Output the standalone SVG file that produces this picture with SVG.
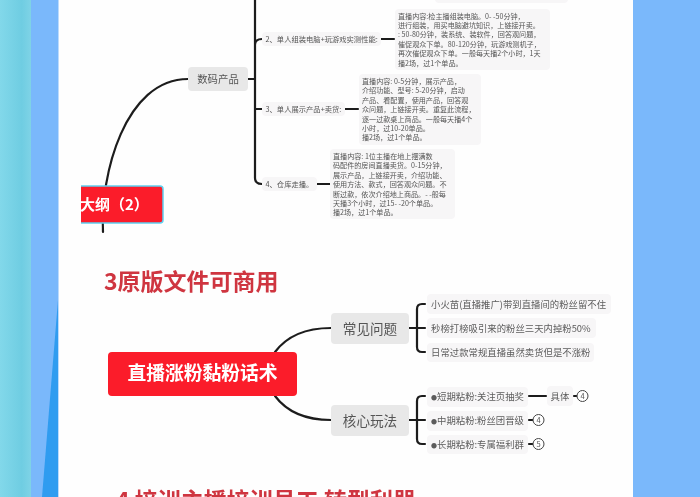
<svg xmlns="http://www.w3.org/2000/svg" width="700" height="497" viewBox="0 0 700 497">
<defs>
<style>
text{font-family:"Noto Sans CJK SC","Liberation Sans",sans-serif}
.c{fill:none;stroke:#1e1e1e;stroke-width:2.2;stroke-linecap:round}
.lb{fill:#f7f6f7}
.t{font-size:7.3px;fill:#555}
.dt{font-size:7.1px;fill:#555}
.s{font-size:9.4px;fill:#5c5c5c}
.b{fill:#e8e8e8}
.n{font-size:10.4px;fill:#555;text-anchor:middle}
.m{font-size:13.6px;fill:#555;text-anchor:middle}
.h{font-size:23px;font-weight:700;fill:#cf3640}
.o{fill:#fff;stroke:#444;stroke-width:1}
.ot{font-size:7.5px;fill:#555;text-anchor:middle}
.d{font-size:6px}
</style>
<linearGradient id="tl" x1="0" x2="1" y1="0" y2="0"><stop offset="0" stop-color="#82d8ea"/><stop offset="0.7" stop-color="#6fcde2"/><stop offset="1" stop-color="#7fd3e6"/></linearGradient>
<filter id="soft" x="-2%" y="-2%" width="104%" height="104%"><feGaussianBlur stdDeviation="0.35"/></filter>
</defs>
<rect width="700" height="497" fill="#7ab8fb"/>
<rect width="31" height="497" fill="url(#tl)"/>
<polygon points="58,300 42,497 58,497" fill="#2f9cf0"/>
<rect x="58.500" y="0" width="574.500" height="497" fill="#fefefe"/>
<g filter="url(#soft)">
<g id="connectors">
<path class="c" d="M103 232C100 175 125 79 188 79"/>
<path class="c" d="M248 79H255M255 0V178Q255 184 262 184M255 45Q255 39 262 39M255 109H262M381 39H394M345 109H358M317 184H330"/>
<path class="c" d="M275 352C287 336 306 328 331 328M275 396C287 412 306 420 331 420"/>
<path class="c" d="M409 328H425M425 304H422Q417 304 417 309V347Q417 352 422 352H425"/>
<path class="c" d="M409 420H425M425 396H422Q417 396 417 401V439Q417 444 422 444H425"/>
<path class="c" d="M529 396H546M574 396H577M529 420H533M529 444H533"/>
</g>
<g id="top-box"><rect class="lb" x="435" y="-20" width="133" height="23" rx="4"/></g>
<g id="node-digital"><rect class="b" x="188" y="67" width="60" height="24" rx="4"/><text class="n" x="218" y="83">数码产品</text></g>
<g id="label-2"><rect class="lb" x="262" y="32" width="119" height="14" rx="4"/><text class="t" x="265.500" y="42">2、单人组装电脑+玩游戏实测性能:</text></g>
<g id="label-3"><rect class="lb" x="262" y="102" width="83" height="14" rx="4"/><text class="t" x="265.500" y="112">3、单人展示产品+卖货:</text></g>
<g id="label-4"><rect class="lb" x="262" y="177" width="55" height="14" rx="4"/><text class="t" x="265.500" y="187">4、仓库走播。</text></g>
<g id="detail-2"><rect class="lb" x="395" y="9" width="155" height="61" rx="4"/>
<text class="dt"><tspan x="398" y="18.500">直播内容:检主播组装电脑。0- -50分钟&#xFF0C;</tspan><tspan x="398" y="28">进行组装&#xFF0C;用买电脑避坑知识&#xFF0C;上链接开卖。</tspan><tspan x="398" y="37.400">: 50-80分钟&#xFF0C;装系统、装软件&#xFF0C;回答观问题&#xFF0C;</tspan><tspan x="398" y="46.800">催促观众下单。80-120分钟&#xFF0C;玩游戏测机子&#xFF0C;</tspan><tspan x="398" y="56.200">再次催促观众下单。一般每天播2个小时&#xFF0C;1天</tspan><tspan x="398" y="65.600">播2场&#xFF0C;过1个单品。</tspan></text></g>
<g id="detail-3"><rect class="lb" x="359" y="74" width="122" height="71" rx="4"/>
<text class="dt"><tspan x="362" y="84">直播内容: 0-5分钟&#xFF0C;展示产品&#xFF0C;</tspan><tspan x="362" y="93.400">介绍功能、型号: 5-20分钟&#xFF0C;启动</tspan><tspan x="362" y="102.800">产品、看配置&#xFF0C;使用产品&#xFF0C;回答观</tspan><tspan x="362" y="112.200">众问题&#xFF0C;上链接开卖。重复此流程&#xFF0C;</tspan><tspan x="362" y="121.600">逐一过款桌上商品。一般每天播4个</tspan><tspan x="362" y="131">小时&#xFF0C;过10-20单品。</tspan><tspan x="362" y="140.400">播2场&#xFF0C;过1个单品。</tspan></text></g>
<g id="detail-4"><rect class="lb" x="330" y="149" width="125" height="70" rx="4"/>
<text class="dt"><tspan x="333" y="159">直播内容: 1位主播在地上摆满数</tspan><tspan x="333" y="168.400">码配件的房间直播卖货。0-15分钟&#xFF0C;</tspan><tspan x="333" y="177.800">展示产品&#xFF0C;上链接开卖&#xFF0C;介绍功能、</tspan><tspan x="333" y="187.200">使用方法、款式&#xFF0C;回答观众问题。不</tspan><tspan x="333" y="196.600">断过款&#xFF0C;依次介绍地上商品。- -般每</tspan><tspan x="333" y="206">天播3个小时&#xFF0C;过15- -20个单品。</tspan><tspan x="333" y="215.400">播2场&#xFF0C;过1个单品。</tspan></text></g>
<g id="node-outline"><svg x="81" y="180" width="90" height="50" viewBox="81 180 90 50"><rect x="60" y="186" width="103" height="37" rx="3" fill="#fb1c2a" stroke="#5fd0f0" stroke-width="1.500"/><text x="80" y="210" font-size="15" font-weight="700" fill="#fff">大纲&#xFF08;2&#xFF09;</text></svg></g>
<text class="h" x="104" y="290">3原版文件可商用</text>
<g id="node-main"><rect x="108" y="352" width="189" height="44" rx="4" fill="#fb1c2a"/><text x="202.500" y="380" font-size="18.800" font-weight="700" fill="#fff" text-anchor="middle">直播涨粉黏粉话术</text></g>
<g id="node-problems"><rect class="b" x="331" y="313" width="78" height="31" rx="4"/><text class="m" x="370" y="333.500">常见问题</text></g>
<g id="node-play"><rect class="b" x="331" y="405" width="78" height="31" rx="4"/><text class="m" x="370" y="425.500">核心玩法</text></g>
<g id="p1"><rect class="lb" x="427" y="294" width="184" height="20" rx="4"/><text class="s" x="431" y="307.500">小火苗(直播推广)带到直播间的粉丝留不住</text></g>
<g id="p2"><rect class="lb" x="427" y="318" width="169" height="20" rx="4"/><text class="s" x="431" y="331.500">秒榜打榜吸引来的粉丝三天内掉粉50%</text></g>
<g id="p3"><rect class="lb" x="427" y="343" width="167" height="19" rx="4"/><text class="s" x="431" y="356">日常过款常规直播虽然卖货但是不涨粉</text></g>
<g id="q1"><rect class="lb" x="427" y="387" width="101" height="20" rx="4"/><text class="s" x="431" y="400"><tspan class="d">●</tspan>短期粘粉:关注页抽奖</text></g>
<g id="q2"><rect class="lb" x="427" y="411" width="101" height="20" rx="4"/><text class="s" x="431" y="424"><tspan class="d">●</tspan>中期粘粉:粉丝团晋级</text></g>
<g id="q3"><rect class="lb" x="427" y="435" width="101" height="19" rx="4"/><text class="s" x="431" y="448"><tspan class="d">●</tspan>长期粘粉:专属福利群</text></g>
<g id="q1-detail"><rect class="lb" x="547" y="386" width="26" height="20" rx="4"/><text class="s" x="560" y="399.500" text-anchor="middle">具体</text></g>
<g id="mark-a"><circle class="o" cx="582.500" cy="396" r="5.500"/><text class="ot" x="582.500" y="398.800">4</text></g>
<g id="mark-b"><circle class="o" cx="538.500" cy="420" r="5.500"/><text class="ot" x="538.500" y="422.800">4</text></g>
<g id="mark-c"><circle class="o" cx="538.500" cy="444" r="5.500"/><text class="ot" x="538.500" y="446.800">5</text></g>
<text class="h" x="116" y="509">4 培训主播培训员工 转型利器</text>
</g>
</svg>
